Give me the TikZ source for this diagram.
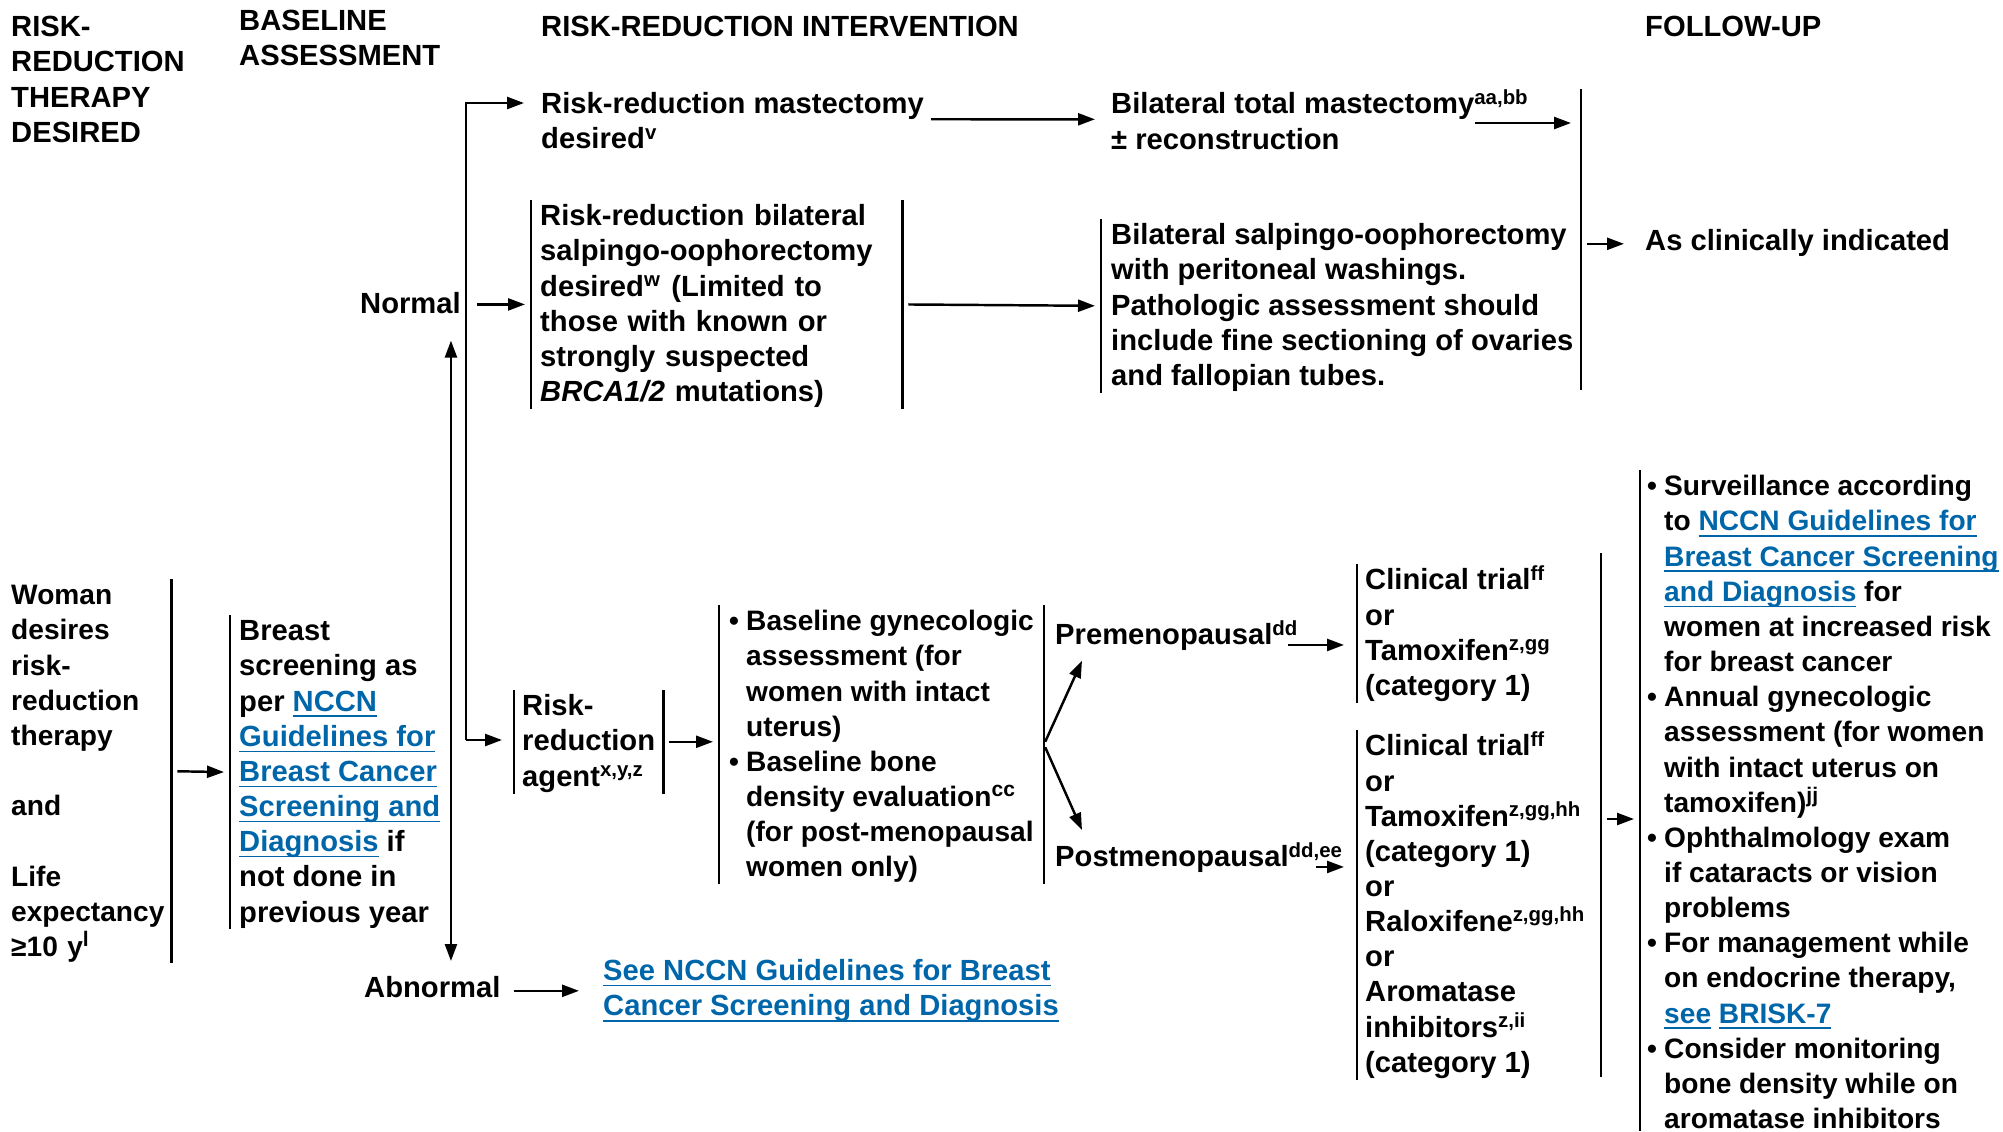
\documentclass[tikz,border=0pt]{standalone}
\usepackage{fontspec}
\setmainfont{Liberation Sans}
\usetikzlibrary{arrows.meta}
\definecolor{linkblue}{RGB}{0,102,170}
\newcommand{\lnk}[1]{\textcolor{linkblue}{\underline{\smash{#1}}}}
\newcommand{\bul}{\makebox[0.17cm][l]{\textbullet}}
\newcommand{\ind}{\hspace*{0.17cm}}
\newcommand{\sx}[1]{\textsuperscript{#1}}

\begin{document}
\begin{tikzpicture}[line width=0.7pt,
  txt/.style={anchor=north west, inner sep=0pt, align=left,
    font=\fontsize{8.3}{10}\selectfont\bfseries},
  box/.style={txt, inner xsep=0.08cm},
  small/.style={font=\fontsize{8.0}{10}\selectfont\bfseries},
  arr/.style={-{Triangle[length=0.17cm,width=0.12cm]}, shorten <=0.06cm, shorten >=0.06cm}]
\useasboundingbox (0,0) rectangle (20.03,-11.31);

% Headers
\node[txt] (hRisk) at (0.10,-0.11) {\strut RISK-\\REDUCTION\\THERAPY\\DESIRED};
\node[txt] (hBase) at (2.38,-0.05) {\strut BASELINE\\ASSESSMENT};
\node[txt] (hInt) at (5.40,-0.11) {\strut RISK-REDUCTION INTERVENTION};
\node[txt] (hFollow) at (16.44,-0.11) {\strut FOLLOW-UP};

% Left columns
\node[txt, small, inner xsep=0.02cm, text width=1.57cm] (woman) at (0.08,-5.79)
  {\strut Woman\\desires\\risk-\\reduction\\therapy\\~\\and\\~\\Life\\expectancy\\≥10 y\sx{l}};
\node[box] (breast) at (2.30,-6.15)
  {\strut Breast\\screening as\\per \lnk{NCCN}\\\lnk{Guidelines for}\\\lnk{Breast Cancer}\\\lnk{Screening and}\\\lnk{Diagnosis} if\\not done in\\previous year};
\node[txt] (normal) at (3.59,-2.88) {\strut Normal};
\node[txt] (abnormal) at (3.63,-9.72) {\strut Abnormal};

% Intervention
\node[txt] (rrm) at (5.40,-0.88) {\strut Risk-reduction mastectomy\\desired\sx{v}};
\node[box, text width=3.53cm] (rrbso) at (5.31,-2.00)
  {\strut Risk-reduction bilateral\\salpingo-oophorectomy\\desired\sx{w} (Limited to\\those with known or\\strongly suspected\\\textit{BRCA1/2} mutations)};
\node[box, inner xsep=0.07cm] (agent) at (5.14,-6.90) {\strut Risk-\\reduction\\agent\sx{x,y,z}};
\node[box, small, inner xsep=0.09cm] (bline) at (7.19,-6.05)
  {\strut\bul Baseline gynecologic\\\ind assessment (for\\\ind women with intact\\\ind uterus)\\
   \bul Baseline bone\\\ind density evaluation\sx{cc}\\\ind (for post-menopausal\\\ind women only)};
\node[txt] (seencn) at (6.02,-9.55)
  {\strut\lnk{See NCCN Guidelines for Breast}\\\lnk{Cancer Screening and Diagnosis}};
\node[txt] (pre) at (10.54,-6.19) {\strut Premenopausal\sx{dd}};
\node[txt] (post) at (10.54,-8.41) {\strut Postmenopausal\sx{dd,ee}};
\node[box, inner xsep=0.07cm] (prebox) at (13.57,-5.64)
  {\strut Clinical trial\sx{ff}\\or\\Tamoxifen\sx{z,gg}\\(category 1)};
\node[box, inner xsep=0.07cm] (postbox) at (13.57,-7.30)
  {\strut Clinical trial\sx{ff}\\or\\Tamoxifen\sx{z,gg,hh}\\(category 1)\\or\\Raloxifene\sx{z,gg,hh}\\or\\Aromatase\\inhibitors\sx{z,ii}\\(category 1)};
\node[txt] (btm) at (11.10,-0.88) {\strut Bilateral total mastectomy\sx{aa,bb}\\± reconstruction};
\node[box, inner xsep=0.09cm] (bso) at (11.01,-2.19)
  {\strut Bilateral salpingo-oophorectomy\\with peritoneal washings.\\Pathologic assessment should\\include fine sectioning of ovaries\\and fallopian tubes.};

% Follow-up
\node[txt] (asind) at (16.44,-2.25) {\strut As clinically indicated};
\node[box, small, inner xsep=0.06cm] (follow) at (16.40,-4.70)
  {\strut\bul Surveillance according\\\ind to \lnk{NCCN Guidelines for}\\\ind \lnk{Breast Cancer Screening}\\
   \ind \lnk{and Diagnosis} for\\\ind women at increased risk\\\ind for breast cancer\\
   \bul Annual gynecologic\\\ind assessment (for women\\\ind with intact uterus on\\\ind tamoxifen)\sx{jj}\\
   \bul Ophthalmology exam\\\ind if cataracts or vision\\\ind problems\\
   \bul For management while\\\ind on endocrine therapy,\\\ind \lnk{see} \lnk{BRISK-7}\\
   \bul Consider monitoring\\\ind bone density while on\\\ind aromatase inhibitors};

% Bars
\draw (woman.north east) -- (woman.south east);
\draw (breast.north west) -- (breast.south west);
\draw (rrbso.north west) -- (rrbso.south west);
\draw (rrbso.north east) -- (rrbso.south east);
\draw (bso.north west) -- (bso.south west);
\draw (agent.north west) -- (agent.south west);
\draw (agent.north east) -- (agent.south east);
\draw (bline.north west) -- (bline.south west);
\draw (bline.north east) -- (bline.south east);
\draw (prebox.north west) -- (prebox.south west);
\draw (postbox.north west) -- (postbox.south west);
\draw (follow.north west) -- (follow.west |- 0,-11.31);
\coordinate (colA) at (15.81,-0.89);
\coordinate (colB) at (15.81,-3.90);
\draw (colA) -- (colB);
\coordinate (colC) at (16.01,-5.53);
\coordinate (colD) at (16.01,-10.77);
\draw (colC) -- (colD);

% Arrows
\coordinate (tTop) at (4.66,-1.03);
\coordinate (tBot) at (4.66,-7.40);
\draw[arr] (woman.east) -- (breast.west);
\draw[arr, shorten <=0cm, shorten >=0.16cm] (tBot) -- (tTop) -- (rrm.west |- tTop);
\draw[arr, shorten <=0cm, shorten >=0.12cm] (tBot) -- (agent.west |- tBot);
\draw[arr, shorten <=0.15cm] (normal.east |- rrbso.west) -- (rrbso.west);
\draw[{Triangle[length=0.17cm,width=0.12cm]}-{Triangle[length=0.17cm,width=0.12cm]},
  shorten <=0.15cm, shorten >=0.11cm]
  ([xshift=-0.11cm]normal.south east) -- ([xshift=-0.11cm]normal.south east |- abnormal.north);
\draw[arr, shorten >=0.15cm] (rrm.east) -- (btm.west);
\coordinate (btmEnd) at (14.75,-1.23);
\draw[arr, shorten <=0cm, shorten >=0.1cm] (btmEnd) -- (btmEnd -| colA);
\draw[arr] (rrbso.east) -- (bso.west);
\draw[arr, shorten >=0.2cm] (colA |- asind.west) -- (asind.west);
\draw[arr, shorten <=0.12cm, shorten >=0.23cm] (abnormal.east) -- (seencn.west |- abnormal.east);
\draw[arr] (agent.east) -- (bline.west |- agent.east);
\draw[arr, shorten <=0.03cm, shorten >=0cm] (bline.east) -- ([xshift=0.28cm,yshift=-0.04cm]pre.south west);
\draw[arr, shorten <=0.03cm, shorten >=0cm] (bline.east) -- ([xshift=0.28cm,yshift=0.11cm]post.north west);
\draw[arr, shorten <=0cm, shorten >=0.13cm] ([xshift=-0.12cm]pre.base east) -- (prebox.west |- pre.base east);
\draw[arr, shorten <=0cm, shorten >=0.13cm] ([xshift=-0.29cm]post.base east) -- (postbox.west |- post.base east);
\coordinate (colM) at (16.01,-8.19);
\draw[arr] (colM) -- (colM -| follow.west);
\end{tikzpicture}
\end{document}
